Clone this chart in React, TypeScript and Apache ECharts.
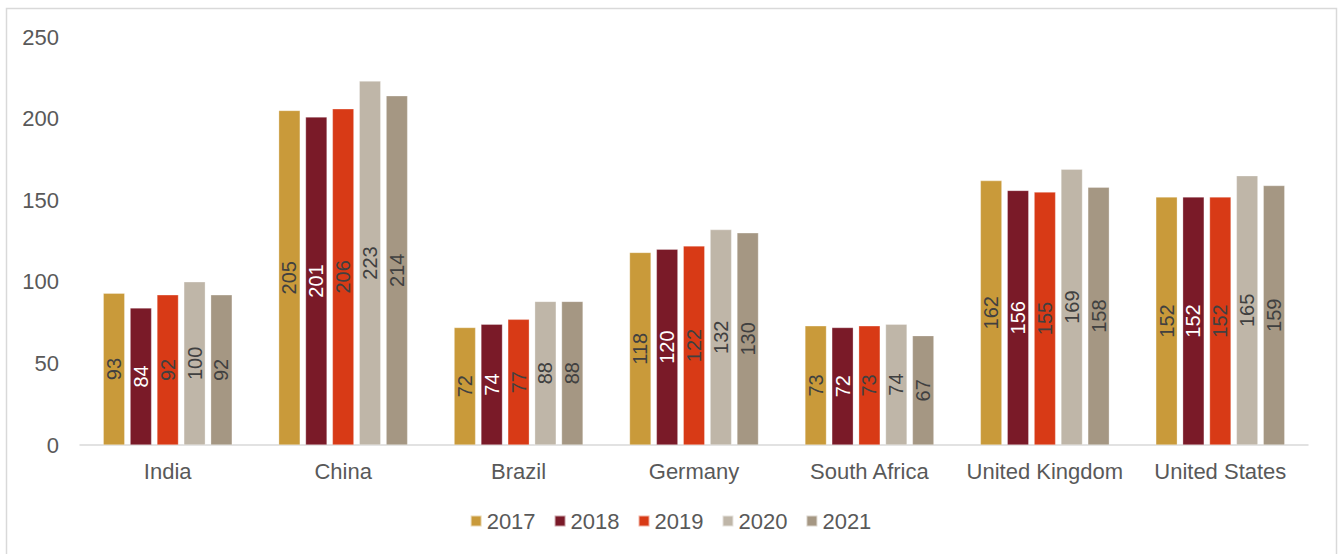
import React, { useEffect, useRef } from "react";
import * as echarts from "echarts";

const categories = ["India", "China", "Brazil", "Germany", "South Africa", "United Kingdom", "United States"];
const years = ["2017", "2018", "2019", "2020", "2021"];
const v2017 = [93, 205, 72, 118, 73, 162, 152];
const v2018 = [84, 201, 74, 120, 72, 156, 152];
const v2019 = [92, 206, 77, 122, 73, 155, 152];
const v2020 = [100, 223, 88, 132, 74, 169, 165];
const v2021 = [92, 214, 88, 130, 67, 158, 159];
const seriesValues = [v2017, v2018, v2019, v2020, v2021];
const colors = ["#C99A3A", "#7A1A28", "#D83A16", "#BFB6A8", "#A59783"];
const labelColors = ["#404040", "#FFFFFF", "#404040", "#404040", "#404040"];

const FONT = "Liberation Sans, Arial, sans-serif";

export default function App() {
  const ref = useRef<HTMLDivElement>(null);
  useEffect(() => {
    if (!ref.current) return;
    const chart = echarts.init(ref.current, null, { renderer: "svg" });
    chart.setOption({
      animation: false,
      backgroundColor: "#ffffff",
      textStyle: { fontFamily: FONT },
      graphic: [
        {
          type: "rect",
          shape: { x: 6.5, y: 8.5, width: 1330, height: 600 },
          style: { fill: "none", stroke: "#D9D9D9", lineWidth: 1.5 },
          silent: true,
        },
      ],
      grid: { left: 80, right: 33, top: 37, bottom: 109, containLabel: false },
      legend: {
        data: years,
        top: 505,
        left: "center",
        itemWidth: 11,
        itemHeight: 11,
        itemGap: 18,
        icon: "rect",
        textStyle: { fontSize: 22, color: "#595959", fontFamily: FONT },
      },
      xAxis: {
        type: "category",
        data: categories,
        axisLine: { show: true, lineStyle: { color: "#D9D9D9", width: 1.5 } },
        axisTick: { show: false },
        axisLabel: { fontSize: 22, color: "#595959", margin: 15, interval: 0, fontFamily: FONT },
      },
      yAxis: {
        type: "value",
        min: 0,
        max: 250,
        interval: 50,
        axisLine: { show: false },
        axisTick: { show: false },
        splitLine: { show: false },
        axisLabel: { fontSize: 22, color: "#595959", margin: 21, fontFamily: FONT },
      },
      series: years.map((y, i) => ({
        name: y,
        type: "bar",
        data: seriesValues[i],
        barGap: "25%",
        barCategoryGap: "26.5%",
        itemStyle: { color: colors[i], borderColor: "rgba(255,255,255,0.6)", borderWidth: 0.5 },
        label: {
          show: true,
          position: "inside",
          rotate: 90,
          fontSize: 20,
          color: labelColors[i],
          fontFamily: FONT,
        },
      })),
    });
    return () => chart.dispose();
  }, []);
  return (
    <div
      ref={ref}
      style={{ position: "absolute", left: 0, top: 0, width: 1341, height: 554 }}
    />
  );
}
